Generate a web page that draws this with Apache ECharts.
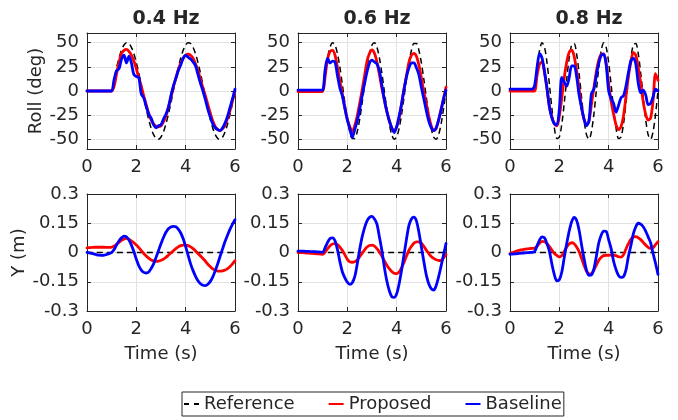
<!DOCTYPE html>
<html>
<head>
<meta charset="utf-8">
<script src="https://cdn.jsdelivr.net/npm/echarts@6/dist/echarts.min.js"></script>
<style>
  html, body { margin: 0; padding: 0; background: #ffffff; }
  #chart { width: 678px; height: 420px; }
</style>
</head>
<body>
<div id="chart"></div>
<script>
// Sample times (s)
const time = [0,0.1,0.2,0.3,0.4,0.5,0.6,0.7,0.8,0.9,1.0,
  1.1,1.2,1.3,1.4,1.5,1.6,1.7,1.8,1.9,2.0,
  2.1,2.2,2.3,2.4,2.5,2.6,2.7,2.8,2.9,3.0,
  3.1,3.2,3.3,3.4,3.5,3.6,3.7,3.8,3.9,4.0,
  4.1,4.2,4.3,4.4,4.5,4.6,4.7,4.8,4.9,5.0,
  5.1,5.2,5.3,5.4,5.5,5.6,5.7,5.8,5.9,6.0];

const panelTitles = ['0.4 Hz', '0.6 Hz', '0.8 Hz'];
const seriesNames = ['Reference', 'Proposed', 'Baseline'];
const xTicks = [0, 2, 4, 6];
const rollTicks = [-50, -25, 0, 25, 50];
const yTicks = [-0.3, -0.15, 0, 0.15, 0.3];

// Roll angle (deg)
const rollRef04 = [0,0,0,0,0,0,0,0,0,0,0,
  12.4,24.1,34.2,42.2,47.6,49.9,49.1,45.2,38.5,29.4,
  18.4,6.3,-6.3,-18.4,-29.4,-38.5,-45.2,-49.1,-49.9,-47.6,
  -42.2,-34.2,-24.1,-12.4,0,12.4,24.1,34.2,42.2,47.6,
  49.9,49.1,45.2,38.5,29.4,18.4,6.3,-6.3,-18.4,-29.4,
  -38.5,-45.2,-49.1,-49.9,-47.6,-42.2,-34.2,-24.1,-12.4,0];
const rollProp04 = [0,0,0,0,0,0,0,0,0,0,0,
  5,18,30,39,42,43,41,37,31,23,
  14,5,-5,-14,-23,-30,-34,-36.5,-37,-36,
  -32,-26,-17,-7,4,13,22,29,34,37,
  38,37,34,28,21,12,3,-5,-14,-23,
  -31,-37,-40,-41,-39,-35,-28,-20,-10,0];
const rollBase04 = [0,0,0,0,0,0,0,0,0,0,0,
  12,21,23,33,37,29,36,29,17,15,
  14,-3,-7,-16,-24,-28,-35,-38,-36,-35,
  -29,-24,-17,-5,5,13,21,27,34,37,
  35,33,30,26,17,8,0,-9,-19,-27,
  -34,-38,-40,-41,-38,-33,-26,-17,-8,2];

const rollRef06 = [0,0,0,0,0,0,0,0,0,0,0,
  18.4,34.2,45.2,49.9,47.6,38.5,24.1,6.3,-12.4,-29.4,
  -42.2,-49.1,-49.1,-42.2,-29.4,-12.4,6.3,24.1,38.5,47.6,
  49.9,45.2,34.2,18.4,0,-18.4,-34.2,-45.2,-49.9,-47.6,
  -38.5,-24.1,-6.3,12.4,29.4,42.2,49.1,49.1,42.2,29.4,
  12.4,-6.3,-24.1,-38.5,-47.6,-49.9,-45.2,-34.2,-18.4,0];
const rollProp06 = [-0.5,-0.5,-0.5,-0.5,-0.5,-0.5,-0.5,-0.5,-0.5,-0.5,-0.5,
  15,33,41,42,37,24,10,-4,-17,-29,
  -37,-42,-36,-26,-13,1,16,31,39,42.5,
  39,30,17,3,-9,-21,-30,-38,-41.5,-37,
  -28,-14,2,16,30,37,39,36,27,14,
  -1,-13,-26,-36,-41,-39,-30,-19,-8,4];
const rollBase06 = [1,1,1,1,1,1,1,1,1,1,1,
  22,34,29,31,30,16,3,-5,-18,-30,
  -39,-48,-40,-31,-19,-5,8,20,29,32,
  30,28,21,6,-9,-21,-31,-38,-43,-37,
  -26,-13,2,15,24,29,29,24,17,4,
  -8,-20,-31,-38,-41,-38,-30,-20,-8,1];

const rollRef08 = [0,0,0,0,0,0,0,0,0,0,0,
  24.1,42.2,49.9,45.2,29.4,6.3,-18.4,-38.5,-49.1,-47.6,
  -34.2,-12.4,12.4,34.2,47.6,49.1,38.5,18.4,-6.3,-29.4,
  -45.2,-49.9,-42.2,-24.1,0,24.1,42.2,49.9,45.2,29.4,
  6.3,-18.4,-38.5,-49.1,-47.6,-34.2,-12.4,12.4,34.2,47.6,
  49.1,38.5,18.4,-6.3,-29.4,-45.2,-49.9,-42.2,-24.1,0];
const rollProp08 = [0,0,0,0,0,0,0,0,0,0,0,
  17,28,30,19,2,-16,-27,-34,-36,-26,
  -7,14,30,40,42.5,36,21,3,-17,-29,
  -35,-31,-14,3,20,32,38,38.5,28,7,
  -11,-24,-35,-40,-37,-26,-6,15,30,40,
  37,24,8,-11,-24,-30,-28,-10,18,11];
const rollBase08 = [2,2,2,2,2,2,2,2,2,2,6,
  25,39,34,20,3,-17,-28,-34,-35,-19,
  14,9,5,14,26,26,15,-4,-17,-29,
  -36,-31,-3,2,16,29,37,38,27,0,
  -8,-13,-22,-15,-7,-5,5,19,31,34,
  28,8,-2,1,-4,-14,-13,-6,2,0];

// Lateral position Y (m); the reference path stays on Y = 0
const yRefTime = [0, 6];
const yRefVal = [0, 0];
const yProp04 = [0.024,0.025,0.026,0.027,0.027,0.027,0.027,0.027,0.026,0.026,0.027,
  0.033,0.042,0.052,0.062,0.07,0.072,0.068,0.06,0.05,0.038,
  0.025,0.01,-0.005,-0.018,-0.029,-0.038,-0.043,-0.045,-0.044,-0.04,
  -0.034,-0.025,-0.014,-0.003,0.009,0.02,0.029,0.035,0.038,0.038,
  0.035,0.029,0.02,0.008,-0.005,-0.018,-0.031,-0.045,-0.06,-0.073,
  -0.084,-0.091,-0.095,-0.096,-0.094,-0.09,-0.083,-0.072,-0.058,-0.042];
const yBase04 = [0,-0.002,-0.005,-0.008,-0.012,-0.014,-0.015,-0.014,-0.01,-0.006,0,
  0.015,0.04,0.06,0.075,0.084,0.08,0.064,0.038,0.005,-0.035,
  -0.068,-0.09,-0.102,-0.105,-0.1,-0.082,-0.058,-0.025,0.01,0.045,
  0.077,0.104,0.122,0.131,0.134,0.132,0.12,0.1,0.07,0.03,
  -0.015,-0.058,-0.093,-0.122,-0.145,-0.16,-0.168,-0.17,-0.163,-0.148,
  -0.125,-0.093,-0.058,-0.018,0.02,0.058,0.09,0.12,0.146,0.168];

const yProp06 = [0,0,-0.001,-0.002,-0.003,-0.004,-0.005,-0.006,-0.007,-0.008,-0.009,
  0.002,0.02,0.035,0.044,0.046,0.04,0.027,0.01,-0.012,-0.035,
  -0.048,-0.05,-0.047,-0.038,-0.022,-0.003,0.014,0.028,0.036,0.038,
  0.033,0.02,0.003,-0.018,-0.042,-0.065,-0.083,-0.097,-0.106,-0.108,
  -0.1,-0.078,-0.05,-0.018,0.012,0.032,0.048,0.055,0.055,0.048,
  0.032,0.012,-0.005,-0.02,-0.03,-0.037,-0.041,-0.04,-0.028,-0.01];
const yBase06 = [0.007,0.007,0.007,0.006,0.006,0.005,0.005,0.004,0.003,0.002,0.001,
  0.025,0.052,0.072,0.075,0.06,0.015,-0.048,-0.1,-0.13,-0.152,
  -0.163,-0.155,-0.124,-0.06,0.015,0.08,0.128,0.162,0.18,0.185,
  0.172,0.146,0.08,0.01,-0.075,-0.145,-0.195,-0.226,-0.23,-0.212,
  -0.16,-0.09,-0.01,0.07,0.14,0.172,0.181,0.162,0.105,0.03,
  -0.045,-0.115,-0.16,-0.185,-0.193,-0.17,-0.125,-0.07,-0.012,0.046];

const yProp08 = [-0.005,-0.001,0.004,0.009,0.012,0.015,0.017,0.019,0.02,0.021,0.022,
  0.032,0.048,0.057,0.055,0.045,0.03,0.012,-0.005,-0.015,-0.022,
  -0.016,0.005,0.028,0.044,0.05,0.045,0.028,0.005,-0.03,-0.065,
  -0.095,-0.11,-0.108,-0.09,-0.065,-0.04,-0.024,-0.016,-0.014,-0.014,
  -0.013,-0.013,-0.016,-0.022,-0.024,-0.012,0.018,0.045,0.068,0.08,
  0.081,0.076,0.066,0.052,0.038,0.026,0.021,0.025,0.04,0.055];
const yBase08 = [-0.009,-0.008,-0.007,-0.006,-0.004,-0.003,-0.002,-0.001,0,0.001,0.005,
  0.035,0.065,0.08,0.075,0.045,0.005,-0.06,-0.115,-0.145,-0.14,
  -0.1,-0.025,0.046,0.11,0.158,0.18,0.165,0.115,0.04,-0.03,
  -0.09,-0.117,-0.115,-0.085,-0.02,0.05,0.09,0.11,0.108,0.065,
  0.02,-0.045,-0.088,-0.118,-0.128,-0.124,-0.09,-0.02,0.035,0.095,
  0.132,0.15,0.145,0.132,0.11,0.08,0.05,-0.005,-0.055,-0.112];

const FONT = 'DejaVu Sans';
const INK = '#262626';
const GRIDLINE = '#e2e2e2';
const colors = { Reference: '#000000', Proposed: '#ff0000', Baseline: '#0000ff' };

// legend glyphs: a dashed stroke and two solid strokes
const legendIcons = {
  Reference: 'path://M0,0h5v2h-5z M10,0h5v2h-5z',
  Proposed: 'rect',
  Baseline: 'rect'
};

const plotLeft = [87, 298, 510];
const plotWidth = 148;
const rows = [
  { top: 33, height: 116, min: -60, max: 60, ticks: rollTicks, name: 'Roll (deg)', nameGap: 40,
    sets: [[time, rollRef04, rollProp04, rollBase04], [time, rollRef06, rollProp06, rollBase06], [time, rollRef08, rollProp08, rollBase08]],
    refTime: null },
  { top: 194, height: 117, min: -0.3, max: 0.3, ticks: yTicks, name: 'Y (m)', nameGap: 53,
    sets: [[time, yRefVal, yProp04, yBase04], [time, yRefVal, yProp06, yBase06], [time, yRefVal, yProp08, yBase08]],
    refTime: yRefTime }
];

function pairs(ts, vs) { return vs.map((v, i) => [ts[i], v]); }

const grid = [], xAxis = [], yAxis = [], series = [];
const labelStyle = { fontFamily: FONT, fontSize: 18, color: INK };

rows.forEach((row, r) => {
  plotLeft.forEach((left, c) => {
    const g = grid.length;
    grid.push({ left: left, top: row.top, width: plotWidth, height: row.height, outerBoundsMode: 'none' });
    const bottomRow = r === 1;
    // bottom x axis with labels
    xAxis.push({
      gridIndex: g, type: 'value', min: 0, max: 6, interval: 2, position: 'bottom',
      axisLine: { show: true, onZero: false, lineStyle: { color: INK, width: 1 } },
      axisTick: { show: true, inside: true, length: 4, lineStyle: { color: INK } },
      axisLabel: Object.assign({ margin: 9, customValues: xTicks }, labelStyle),
      splitLine: { show: true, lineStyle: { color: GRIDLINE, width: 1 } },
      name: bottomRow ? 'Time (s)' : '', nameLocation: 'middle', nameGap: 34,
      nameTextStyle: labelStyle
    });
    // top frame edge
    xAxis.push({
      gridIndex: g, type: 'value', min: 0, max: 6, interval: 2, position: 'top',
      axisLine: { show: true, onZero: false, lineStyle: { color: INK, width: 1 } },
      axisTick: { show: true, inside: true, length: 4, lineStyle: { color: INK } },
      axisLabel: { show: false }, splitLine: { show: false }
    });
    yAxis.push({
      gridIndex: g, type: 'value', min: row.min, max: row.max, position: 'left',
      axisLine: { show: true, onZero: false, lineStyle: { color: INK, width: 1 } },
      axisTick: { show: true, inside: true, length: 4, customValues: row.ticks, lineStyle: { color: INK } },
      axisLabel: Object.assign({ margin: 8, customValues: row.ticks }, labelStyle),
      splitLine: { show: true, lineStyle: { color: GRIDLINE, width: 1 } },
      name: c === 0 ? row.name : '', nameLocation: 'middle', nameGap: row.nameGap,
      nameTextStyle: labelStyle
    });
    // right frame edge
    yAxis.push({
      gridIndex: g, type: 'value', min: row.min, max: row.max, position: 'right',
      axisLine: { show: true, onZero: false, lineStyle: { color: INK, width: 1 } },
      axisTick: { show: true, inside: true, length: 4, customValues: row.ticks, lineStyle: { color: INK } },
      axisLabel: { show: false }, splitLine: { show: false }
    });
    const xi = g * 2, yi = g * 2;
    const [ts, ref, prop, base] = row.sets[c];
    const refData = row.refTime ? pairs(row.refTime, ref) : pairs(ts, ref);
    const common = { type: 'line', xAxisIndex: xi, yAxisIndex: yi, symbol: 'none', showSymbol: false,
      smooth: 0.3, animation: false, clip: true };
    series.push(Object.assign({}, common, { name: 'Reference', data: refData, z: 2,
      lineStyle: { color: colors.Reference, width: 1.5, type: [6, 4] }, itemStyle: { color: colors.Reference } }));
    series.push(Object.assign({}, common, { name: 'Proposed', data: pairs(ts, prop), z: 3,
      lineStyle: { color: colors.Proposed, width: 2.8, cap: 'round', join: 'round' }, itemStyle: { color: colors.Proposed } }));
    series.push(Object.assign({}, common, { name: 'Baseline', data: pairs(ts, base), z: 4,
      lineStyle: { color: colors.Baseline, width: 2.8, cap: 'round', join: 'round' }, itemStyle: { color: colors.Baseline } }));
  });
});

const titleCenters = [161, 372, 584];
const title = panelTitles.map((t, i) => ({
  text: t, left: titleCenters[i], top: 5, textAlign: 'center',
  textStyle: { fontFamily: FONT, fontSize: 19, fontWeight: 'bold', color: INK }
}));

const chart = echarts.init(document.getElementById('chart'), null, { renderer: 'canvas' });
chart.setOption({
  backgroundColor: '#ffffff',
  animation: false,
  title: title,
  grid: grid,
  xAxis: xAxis,
  yAxis: yAxis,
  legend: {
    data: seriesNames.map(n => ({ name: n, icon: legendIcons[n],
      itemStyle: { color: colors[n], borderWidth: 0 } })),
    left: 182, top: 392, orient: 'horizontal',
    itemWidth: 15, itemHeight: 2, itemGap: 34, padding: [3, 2, 3, 2],
    borderColor: INK, borderWidth: 1, backgroundColor: '#ffffff',
    textStyle: { fontFamily: FONT, fontSize: 18, color: INK }
  },
  series: series
});
</script>
</body>
</html>
